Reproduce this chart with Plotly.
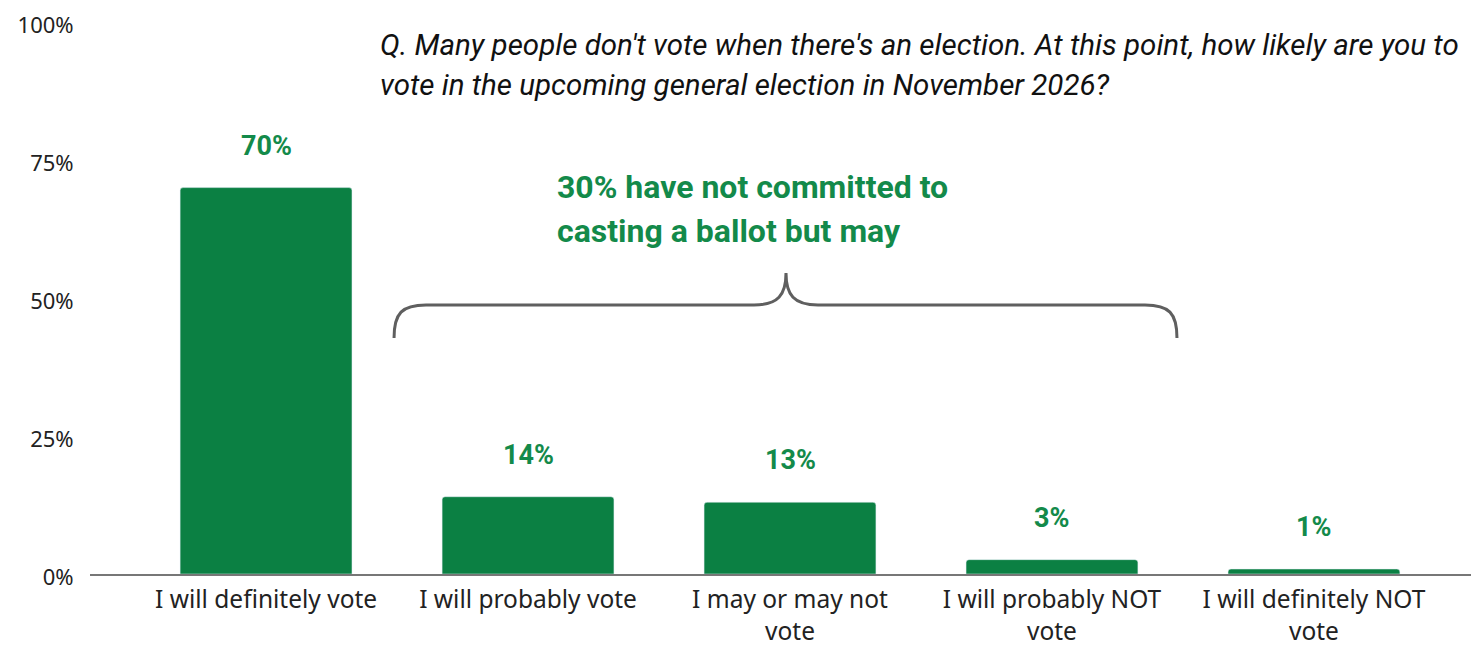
import plotly.graph_objects as go

# survey responses
categories = [
    "I will definitely vote",
    "I will probably vote",
    "I may or may not<br>vote",
    "I will probably NOT<br>vote",
    "I will definitely NOT<br>vote",
]
values = [70, 14, 13, 2.6, 0.9]
labels = ["70%", "14%", "13%", "3%", "1%"]
y_ticks = [0, 25, 50, 75, 100]
y_tick_text = ["0%", "25%", "50%", "75%", "100%"]

question = [
    "Q. Many people don't vote when there's an election. At this point, how likely are you to",
    "vote in the upcoming general election in November 2026?",
]
callout = ["30% have not committed to", "casting a ballot but may"]

GREEN = "#0b8043"
LABEL_GREEN = "#138a4a"

x_pos = list(range(len(categories)))

fig = go.Figure()
fig.add_trace(
    go.Bar(
        x=x_pos,
        y=values,
        marker=dict(color=GREEN, cornerradius=3),
        width=0.656,
        hoverinfo="skip",
    )
)

# value labels above bars
for x, v, t in zip(x_pos, values, labels):
    fig.add_annotation(
        x=x, y=v, text=f"<b>{t}</b>", showarrow=False, yshift=42,
        font=dict(family="Roboto", size=27, color=LABEL_GREEN),
    )

# plot area is 1389 x 552 px, placed at (90, 22) in the page
def paper_x(p):
    return (p - 90) / 1389

def paper_y(p):
    return 1 - (p - 22) / 552

# question text (top)
for i, line in enumerate(question):
    fig.add_annotation(
        xref="paper", yref="paper", x=paper_x(378), y=paper_y(45 + 40 * i),
        text=f"<i>{line}</i>", showarrow=False, xanchor="left", yanchor="middle",
        font=dict(family="Roboto", size=29.5, color="#111111"),
    )

# callout text
for i, line in enumerate(callout):
    fig.add_annotation(
        xref="paper", yref="paper", x=paper_x(555), y=paper_y(187 + 44 * i),
        text=f"<b>{line}</b>", showarrow=False, xanchor="left", yanchor="middle",
        font=dict(family="Roboto", size=32, color=LABEL_GREEN),
    )

# curly brace spanning the non-committed options
def px_x(p):
    return (p - 266) / 262

def px_y(p):
    return (574 - p) / 552 * 100

xl, xr, xc = 394, 1177, 786
yb, yh, yt = 338, 305, 273
path = (
    f"M {px_x(xl)},{px_y(yb)} "
    f"C {px_x(xl)},{px_y(yh + 8)} {px_x(xl + 8)},{px_y(yh)} {px_x(xl + 32)},{px_y(yh)} "
    f"L {px_x(xc - 32)},{px_y(yh)} "
    f"C {px_x(xc - 8)},{px_y(yh)} {px_x(xc)},{px_y(yh - 10)} {px_x(xc)},{px_y(yt)} "
    f"C {px_x(xc)},{px_y(yh - 10)} {px_x(xc + 8)},{px_y(yh)} {px_x(xc + 32)},{px_y(yh)} "
    f"L {px_x(xr - 32)},{px_y(yh)} "
    f"C {px_x(xr - 8)},{px_y(yh)} {px_x(xr)},{px_y(yh + 8)} {px_x(xr)},{px_y(yb)}"
)
fig.add_shape(type="path", path=path, xref="x", yref="y",
              line=dict(color="#5f5f5f", width=3))

# page body has an 8px margin, so the figure is 8px smaller than the window
fig.update_layout(
    width=1471, height=638,
    margin=dict(l=82, r=0, t=14, b=72),
    plot_bgcolor="white", paper_bgcolor="white",
    showlegend=False,
    font=dict(family="Noto Sans", color="#222222"),
)
fig.update_xaxes(
    tickvals=x_pos, ticktext=categories,
    range=[-0.672, 4.63],
    showgrid=False, zeroline=False,
    showline=True, linecolor="#777777", linewidth=1.5,
    tickfont=dict(family="Noto Sans", size=24.5, color="#222222"),
    ticks="outside", ticklen=3, tickcolor="rgba(0,0,0,0)",
    automargin=False,
)
fig.update_yaxes(
    range=[0, 100], tickvals=y_ticks, ticktext=y_tick_text,
    showgrid=False, zeroline=False, showline=False,
    tickfont=dict(family="Noto Sans", size=22, color="#222222"),
    ticks="outside", ticklen=11, tickcolor="rgba(0,0,0,0)",
    ticklabeloverflow="allow", ticklabelshift=3, automargin=False,
)

fig.write_html("out.html")
